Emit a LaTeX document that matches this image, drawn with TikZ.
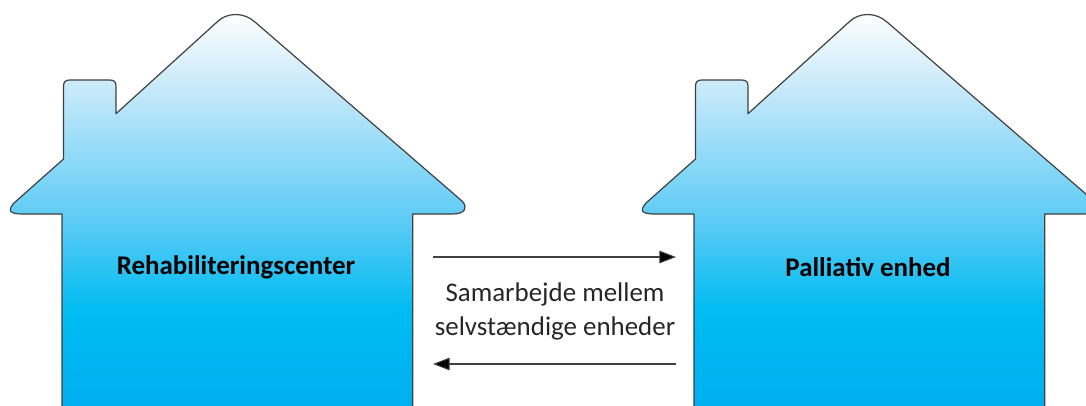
\documentclass[tikz,border=0pt]{standalone}
\usepackage{fontspec}
\setmainfont{Carlito}
\usetikzlibrary{arrows.meta}
\definecolor{houseline}{HTML}{404040}
\definecolor{fadebase}{HTML}{00ADEF}
\definecolor{fadelow}{HTML}{00BCF2}
\definecolor{fademid}{HTML}{5CCBF5}
\definecolor{fadehigh}{HTML}{CDEBFA}
\pgfdeclareverticalshading{housefade}{100bp}{%
  color(0bp)=(fadebase);
  color(25bp)=(fadebase);
  color(38.4bp)=(fadelow);
  color(49.4bp)=(fademid);
  color(66.6bp)=(fadehigh);
  color(75bp)=(white);
  color(100bp)=(white)}
\tikzset{
  x=0.75pt,y=-0.75pt,
  houseshape/.style={draw=houseline,line width=0.9pt,shading=housefade,line join=round},
  houselabel/.style={font=\fontsize{20.2}{24}\selectfont\bfseries,text=black,inner sep=0pt},
  notelabel/.style={font=\fontsize{20.2}{25.5}\selectfont,text=black!85,align=center,inner sep=0pt},
  linkarrow/.style={draw=houseline,line width=0.8pt,-{Triangle[length=12.5pt,width=9.5pt,fill=black]}},
  house/.pic={
    \path[houseshape] (62,420) -- (62,214) -- (23,214)
      .. controls (10,214) and (7,211) .. (14,203)
      -- (63.5,159) -- (63.5,86) .. controls (63.5,82) and (65.5,80) .. (69.5,80)
      -- (110,80) .. controls (114,80) and (116,82) .. (116,86)
      -- (116,113.7) -- (217,22) .. controls (227,12) and (244,12) .. (255,22)
      -- (462,201) .. controls (468,207) and (466,214) .. (452,214)
      -- (412.7,214) -- (412.7,420) -- cycle;
  }
}
\begin{document}
\begin{tikzpicture}
  \clip (0,0) rectangle (1086,405);
  \pic at (0,0) {house};
  \pic at (632,0) {house};
  \node[houselabel] (rehab) at (236,267) {Rehabiliteringscenter};
  \node[houselabel] (palliativ) at (868,267) {Palliativ enhed};
  \node[notelabel] (samarbejde) at (555,311.5) {Samarbejde mellem\\selvstændige enheder};
  \coordinate (topstart) at (433,257);
  \coordinate (topend) at (676,257);
  \coordinate (botstart) at (676,364);
  \coordinate (botend) at (433,364);
  \draw[linkarrow] (topstart) -- (topend);
  \draw[linkarrow] (botstart) -- (botend);
\end{tikzpicture}
\end{document}
